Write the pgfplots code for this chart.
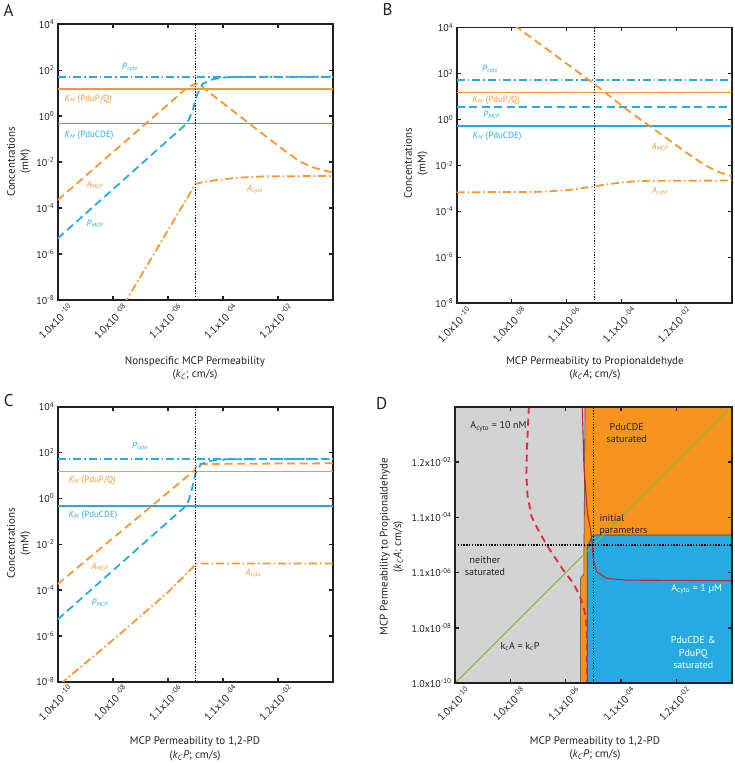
\documentclass[border=0pt]{standalone}
\usepackage{pgfplots}
\pgfplotsset{compat=1.18}
\usepackage{fontspec}
\setmainfont{PT Sans}
\definecolor{axc}{RGB}{35,31,32}
\definecolor{orL}{RGB}{244,152,50}
\definecolor{blL}{RGB}{41,171,226}
\definecolor{orR}{RGB}{247,148,30}
\definecolor{blR}{RGB}{39,170,225}
\definecolor{grR}{RGB}{211,211,211}
\definecolor{rdL}{RGB}{225,45,60}
\definecolor{gnL}{RGB}{125,190,70}
\tikzset{
 dsh/.style={line width=1.8pt, dash pattern=on 8pt off 4.5pt},
 dd/.style={line width=1.8pt, dash pattern=on 8pt off 3pt on 1.5pt off 3pt},
 sol/.style={line width=1.8pt},
 dotv/.style={line width=1.3pt, dash pattern=on 1.3pt off 1.5pt, black},
}
\pgfplotsset{
 every axis/.append style={scale only axis, anchor=south west,
  axis line style={line width=1.7pt, axc}, tick align=inside, major tick length=4pt,
  tick style={line width=1.4pt, axc},
  tick label style={font=\fontsize{10}{10}\selectfont, text=axc},
  xticklabel style={rotate=45, anchor=north east, inner sep=0.5pt, xshift=6pt, yshift=-8pt, font=\fontsize{10.5}{10.5}\selectfont}},
}
\newcommand{\lab}[2]{\textit{#1}\textsubscript{\textit{#2}}}
\begin{document}
\begin{tikzpicture}
\useasboundingbox (0,0) rectangle (735pt,766pt);
% ---------------- A
\begin{axis}[at={(57.7pt,466pt)}, width=275.6pt, height=275.7pt,
  xmode=log, ymode=log, xmin=1e-10, xmax=1, ymin=1e-8, ymax=1e4,
  xminorticks=false, yminorticks=false,
  xtick={1e-10,1e-8,1e-6,1e-4,1e-2}, ytick={1e-8,1e-6,1e-4,1e-2,1,1e2,1e4},
  yticklabels={10\textsuperscript{-8},10\textsuperscript{-6},10\textsuperscript{-4},10\textsuperscript{-2},10\textsuperscript{0},10\textsuperscript{2},10\textsuperscript{4}},
  xticklabels={1.0x10\textsuperscript{ -10},1.0x10\textsuperscript{ -08},1.1x10\textsuperscript{ -06},1.1x10\textsuperscript{ -04},1.2x10\textsuperscript{ -02}}]
\addplot[blL, dd] coordinates {(1e-10,52.5) (1,52.5)};
\addplot[orL, sol] coordinates {(1e-10,15) (1,15)};
\addplot[blL, sol] coordinates {(1e-10,0.48) (1,0.48)};
\addplot[orL, dsh] coordinates {(1e-10,2.239e-4) (5.012e-6,17.38) (1e-5,26.3) (1.413e-5,25.1) (1.995e-5,16.6) (1e-3,0.4266) (0.02512,0.02239) (0.0631,0.01047) (0.1585,6.31e-3) (0.3981,4.467e-3) (1,3.548e-3)};
\addplot[blL, dsh] coordinates {(1e-10,4.786e-6) (5.012e-6,0.5012) (7.943e-6,1.778) (1.122e-5,8.318) (1.778e-5,25.12) (3.981e-5,39.81) (1e-4,47.86) (3.162e-4,51.29) (1,52.48)};
\addplot[orL, dd] coordinates {(2.512e-8,6.31e-9) (1e-5,1.122e-3) (1.995e-5,1.380e-3) (5.888e-5,1.660e-3) (3.162e-4,2.089e-3) (3.162e-3,2.399e-3) (1,2.512e-3)};
\addplot[dotv] coordinates {(1e-5,1e-8) (1e-5,1e4)};
\end{axis}
% ---------------- B
\begin{axis}[at={(456.7pt,462.7pt)}, width=275pt, height=275.8pt,
  xmode=log, ymode=log, xmin=1e-10, xmax=1, ymin=1e-8, ymax=1e4,
  xminorticks=false, yminorticks=false,
  xtick={1e-10,1e-8,1e-6,1e-4,1e-2}, ytick={1e-8,1e-6,1e-4,1e-2,1,1e2,1e4},
  yticklabels={10\textsuperscript{-8},10\textsuperscript{-6},10\textsuperscript{-4},10\textsuperscript{-2},10\textsuperscript{0},10\textsuperscript{2},10\textsuperscript{4}},
  xticklabels={1.0x10\textsuperscript{ -10},1.0x10\textsuperscript{ -08},1.1x10\textsuperscript{ -06},1.1x10\textsuperscript{ -04},1.2x10\textsuperscript{ -02}}]
\addplot[blL, dd] coordinates {(1e-10,54) (1,54)};
\addplot[orL, sol] coordinates {(1e-10,15) (1,15)};
\addplot[blL, dsh] coordinates {(1e-10,3.5) (1,3.5)};
\addplot[blL, sol] coordinates {(1e-10,0.5) (1,0.5)};
\addplot[orL, dsh] coordinates {(1.259e-8,12023) (1.950e-8,8511) (1.047e-5,33.88) (1.479e-4,2.754) (1.047e-3,0.5129) (0.02291,0.03548) (0.1,0.01072) (0.3162,5.248e-3) (1,3.388e-3)};
\addplot[orL, dd] coordinates {(1e-10,6.761e-4) (1e-7,7.079e-4) (1e-6,8.318e-4) (3.162e-6,1e-3) (1e-5,1.230e-3) (3.162e-5,1.514e-3) (1e-4,1.820e-3) (3.162e-4,2.042e-3) (1e-3,2.138e-3) (1,2.188e-3)};
\addplot[dotv] coordinates {(1e-5,1e-8) (1e-5,1e4)};
\end{axis}
% ---------------- C
\begin{axis}[at={(57.7pt,84.3pt)}, width=275.6pt, height=275pt,
  xmode=log, ymode=log, xmin=1e-10, xmax=1, ymin=1e-8, ymax=1e4,
  xminorticks=false, yminorticks=false,
  xtick={1e-10,1e-8,1e-6,1e-4,1e-2}, ytick={1e-8,1e-6,1e-4,1e-2,1,1e2,1e4},
  yticklabels={10\textsuperscript{-8},10\textsuperscript{-6},10\textsuperscript{-4},10\textsuperscript{-2},10\textsuperscript{0},10\textsuperscript{2},10\textsuperscript{4}},
  xticklabels={1.0x10\textsuperscript{ -10},1.0x10\textsuperscript{ -08},1.1x10\textsuperscript{ -06},1.1x10\textsuperscript{ -04},1.2x10\textsuperscript{ -02}}]
\addplot[blL, dd] coordinates {(1e-10,52.5) (1,52.5)};
\addplot[orL, sol] coordinates {(1e-10,15) (1,15)};
\addplot[blL, sol] coordinates {(1e-10,0.48) (1,0.48)};
\addplot[orL, dsh] coordinates {(1e-10,1.820e-4) (9.550e-6,17.38) (1.122e-5,31.62) (1,33.88)};
\addplot[blL, dsh] coordinates {(1e-10,5.248e-6) (5.012e-6,0.5248) (7.079e-6,1.995) (1e-5,12.59) (1.585e-5,31.62) (3.981e-5,44.67) (1.585e-4,51.29) (1,52.48)};
\addplot[orL, dd] coordinates {(1.259e-10,7.943e-9) (1.380e-8,9.120e-7) (8.913e-7,7.079e-5) (3.162e-6,3.162e-4) (9.550e-6,1.230e-3) (1.122e-5,1.445e-3) (1,1.445e-3)};
\addplot[dotv] coordinates {(1e-5,1e-8) (1e-5,1e4)};
\end{axis}
% ---------------- D
\begin{axis}[at={(455pt,82.7pt)}, width=276.7pt, height=276.6pt,
  xmode=log, ymode=log, xmin=1e-10, xmax=1, ymin=1e-10, ymax=1,
  xminorticks=false, yminorticks=false, axis on top,
  xtick={1e-10,1e-8,1e-6,1e-4,1e-2}, ytick={1e-10,1e-8,1e-6,1e-4,1e-2},
  xticklabels={1.0x10\textsuperscript{-10},1.0x10\textsuperscript{-08},1.1x10\textsuperscript{-06},1.1x10\textsuperscript{-04},1.2x10\textsuperscript{-02}},
  yticklabels={1.0x10\textsuperscript{-10},1.0x10\textsuperscript{-08},1.1x10\textsuperscript{-06},1.1x10\textsuperscript{-04},1.2x10\textsuperscript{-02}}]
\addplot[fill=orR, draw=none] coordinates {(3.311e-6,1e-10) (1,1e-10) (1,1) (3.311e-6,1)} -- cycle;
\addplot[fill=blR, draw=axc!85, line width=0.6pt] coordinates {(6.026e-6,1e-10) (1,1e-10) (1,2.291e-5) (1e-5,2.291e-5) (8.318e-6,1.778e-5) (6.607e-6,1e-5) (6.026e-6,7.943e-6)} -- cycle;
\addplot[fill=grR, draw=axc!85, line width=0.6pt] coordinates {(1e-10,1e-10) (3.467e-6,1e-10) (3.467e-6,6.31e-7) (4.571e-6,8.913e-7) (4.571e-6,7.943e-6) (5.012e-6,1) (1e-10,1)} -- cycle;
\addplot[gnL, line width=1pt] coordinates {(1e-10,1e-10) (1,1)};
\addplot[rdL, line width=1.9pt, dash pattern=on 7pt off 5pt] coordinates {(4.677e-8,1) (3.981e-8,0.03162) (3.802e-8,3.162e-3) (4.169e-8,6.31e-4) (5.888e-8,1.047e-4) (1.175e-7,2.630e-5) (2.692e-7,6.607e-6) (8.128e-7,1.259e-6) (1.905e-6,4.074e-7) (3.311e-6,1.349e-7) (4.365e-6,5.888e-8) (5.370e-6,2.570e-8) (5.754e-6,6.31e-9) (5.754e-6,1e-10)};
\addplot[rdL!85!black, line width=1.1pt] coordinates {(3.981e-6,1) (4.571e-6,6.761e-3) (6.026e-6,1.585e-4) (7.943e-6,3.467e-5) (9.120e-6,1.148e-5) (1e-5,2.884e-6) (1.318e-5,1.072e-6) (3.020e-5,6.166e-7) (1.622e-4,5.370e-7) (1,5.129e-7)};
\addplot[dotv] coordinates {(1e-5,1e-10) (1e-5,1)};
\addplot[dotv] coordinates {(1e-10,1e-5) (1,1e-5)};
\end{axis}
% ---------------- texts
\begin{scope}[every node/.style={font=\fontsize{11}{13.5}\selectfont, text=axc, align=center}]
\node[font=\fontsize{17}{17}\selectfont] at (8.5pt,756pt) {A};
\node[font=\fontsize{17}{17}\selectfont] at (387.5pt,756pt) {B};
\node[font=\fontsize{17}{17}\selectfont] at (8.7pt,365pt) {C};
\node[font=\fontsize{17}{17}\selectfont] at (381.7pt,362pt) {D};
\node at (195pt,397.7pt) {Nonspecific MCP Permeability\\(\textit{k}\textsubscript{\textit{C}}; cm/s)};
\node at (595pt,397.7pt) {MCP Permeability to Propionaldehyde\\(\textit{k}\textsubscript{\textit{C}}\textit{A}; cm/s)};
\node at (195pt,17pt) {MCP Permeability to 1,2-PD\\(\textit{k}\textsubscript{\textit{C}}\textit{P}; cm/s)};
\node at (595pt,17.7pt) {MCP Permeability to 1,2-PD\\(\textit{k}\textsubscript{\textit{C}}\textit{P}; cm/s)};
\node[rotate=90] at (19pt,604.3pt) {Concentrations\\(mM)};
\node[rotate=90] at (416pt,602.7pt) {Concentrations\\(mM)};
\node[rotate=90] at (19pt,222.7pt) {Concentrations\\(mM)};
\node[rotate=90] at (391.7pt,219.3pt) {MCP Permeability to Propionaldehyde\\(\textit{k}\textsubscript{\textit{C}}\textit{A}; cm/s)};
\end{scope}
\begin{scope}[every node/.style={font=\fontsize{9}{11}\selectfont}]
\node[text=blL] at (130pt,699pt) {\lab{P}{cyto}};
\node[text=orL, anchor=west] at (61pt,666.7pt) {\lab{K}{M} (PduP/Q)};
\node[text=blL, anchor=west] at (61pt,631pt) {\lab{K}{M} (PduCDE)};
\node[text=orL] at (95pt,581pt) {\lab{A}{MCP}};
\node[text=blL] at (95pt,542pt) {\lab{P}{MCP}};
\node[text=orL] at (255pt,576.7pt) {\lab{A}{cyto}};
\node[text=blL] at (490pt,696.7pt) {\lab{P}{cyto}};
\node[text=orL, anchor=west] at (469pt,666pt) {\lab{K}{M} (PduP/Q)};
\node[text=blL] at (491.7pt,651pt) {\lab{P}{MCP}};
\node[text=blL, anchor=west] at (469pt,630pt) {\lab{K}{M} (PduCDE)};
\node[text=orL] at (660pt,619.3pt) {\lab{A}{MCP}};
\node[text=orL] at (660pt,574.3pt) {\lab{A}{cyto}};
\node[text=blL] at (140pt,319.3pt) {\lab{P}{cyto}};
\node[text=orL, anchor=west] at (65pt,286pt) {\lab{K}{M} (PduP/Q)};
\node[text=blL, anchor=west] at (65pt,251pt) {\lab{K}{M} (PduCDE)};
\node[text=orL] at (100pt,199.3pt) {\lab{A}{MCP}};
\node[text=blL] at (100pt,163.3pt) {\lab{P}{MCP}};
\node[text=orL] at (253.3pt,192.7pt) {\lab{A}{cyto}};
\end{scope}
\begin{scope}[every node/.style={font=\fontsize{10}{12.5}\selectfont, text=axc, align=center}]
\node at (498.5pt,339.3pt) {A\textsubscript{cyto} = 10 nM};
\node at (626.7pt,333pt) {PduCDE\\saturated};
\node[anchor=west, align=left] at (596pt,241pt) {initial\\parameters};
\node at (485pt,200pt) {neither\\saturated};
\node[text=white] at (696.7pt,176.7pt) {A\textsubscript{cyto} = 1 µM};
\node at (520pt,119.3pt) {k\textsubscript{c}A = k\textsubscript{c}P};
\node[text=white] at (693.3pt,113.3pt) {PduCDE \&\\PduPQ\\saturated};
\end{scope}
\end{tikzpicture}
\end{document}
